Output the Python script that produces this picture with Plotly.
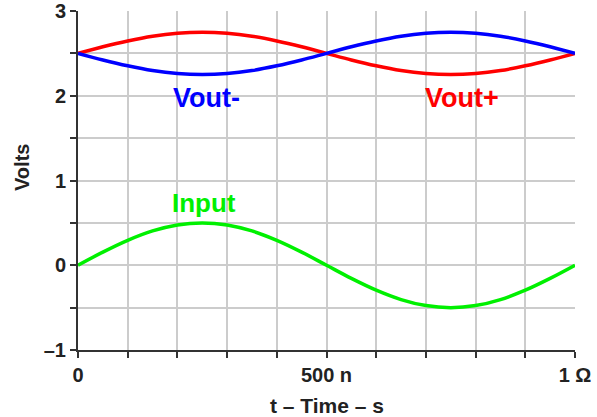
import plotly.graph_objects as go

# time in ns
t_ns = [0, 50, 100, 150, 200, 250, 300, 350, 400, 450, 500,
        550, 600, 650, 700, 750, 800, 850, 900, 950, 1000]
v_input = [0, 0.155, 0.294, 0.405, 0.476, 0.5, 0.476, 0.405, 0.294, 0.155, 0,
           -0.155, -0.294, -0.405, -0.476, -0.5, -0.476, -0.405, -0.294, -0.155, 0]
v_out_plus = [2.5, 2.578, 2.647, 2.703, 2.738, 2.75, 2.738, 2.703, 2.647, 2.578, 2.5,
              2.422, 2.353, 2.297, 2.262, 2.25, 2.262, 2.297, 2.353, 2.422, 2.5]
v_out_minus = [2.5, 2.422, 2.353, 2.297, 2.262, 2.25, 2.262, 2.297, 2.353, 2.422, 2.5,
               2.578, 2.647, 2.703, 2.738, 2.75, 2.738, 2.703, 2.647, 2.578, 2.5]

x_tickvals = [0, 100, 200, 300, 400, 500, 600, 700, 800, 900, 1000]
x_ticktext = ["0", "", "", "", "", "500 n", "", "", "", "", "1 Ω"]
y_tickvals = [-1, -0.5, 0, 0.5, 1, 1.5, 2, 2.5, 3]
y_ticktext = ["–1", "", "0", "", "1", "", "2", "", "3"]

FONT = "Liberation Sans, Arial, sans-serif"
TXT = "#222222"
W, H = 597, 417
L, R, T, B = 78, 22, 11, 67
pw, ph = W - L - R, H - T - B

fig = go.Figure()
fig.add_trace(go.Scatter(x=t_ns, y=v_out_plus, mode="lines", line=dict(color="#ff0000", width=3.5, shape="spline")))
fig.add_trace(go.Scatter(x=t_ns, y=v_out_minus, mode="lines", line=dict(color="#0000ff", width=3.5, shape="spline")))
fig.add_trace(go.Scatter(x=t_ns, y=v_input, mode="lines", line=dict(color="#00f000", width=3.5, shape="spline")))

labels = [("Vout-", 258, 1.97, "#0000ff", 27), ("Vout+", 772, 1.97, "#ff0000", 27), ("Input", 254, 0.74, "#00f000", 26)]
for txt, x, y, c, s in labels:
    fig.add_annotation(x=x, y=y, text="<b>%s</b>" % txt, showarrow=False,
                       font=dict(family=FONT, size=s, color=c), xanchor="center", yanchor="middle")

# axis titles placed at pixel positions (converted to paper coords)
fig.add_annotation(x=0.5, y=(H - B - 405) / ph, xref="paper", yref="paper", text="<b>t – Time – s</b>",
                   showarrow=False, font=dict(family=FONT, size=21, color=TXT), xanchor="center", yanchor="middle")
fig.add_annotation(x=(22 - L) / pw, y=(H - B - 168) / ph, xref="paper", yref="paper", text="<b>Volts</b>",
                   showarrow=False, textangle=-90,
                   font=dict(family=FONT, size=20, color=TXT), xanchor="center", yanchor="middle")

fig.update_layout(
    width=W, height=H,
    margin=dict(l=L, r=R, t=T, b=B),
    paper_bgcolor="white", plot_bgcolor="white",
    showlegend=False,
    font=dict(family=FONT, color=TXT),
)

fig.update_xaxes(range=[0, 1000], tickvals=x_tickvals, ticktext=x_ticktext, automargin=False,
                 showgrid=True, gridcolor="#cccccc", gridwidth=1.5,
                 showline=True, linecolor="#333333", linewidth=2,
                 ticks="outside", ticklen=6, tickcolor="#333333", tickwidth=2,
                 tickfont=dict(size=20, family=FONT, color=TXT, weight="bold"),
                 zeroline=False)
fig.update_yaxes(range=[-1, 3], tickvals=y_tickvals, ticktext=y_ticktext, automargin=False,
                 showgrid=True, gridcolor="#cccccc", gridwidth=1.5,
                 showline=True, linecolor="#333333", linewidth=2,
                 ticks="outside", ticklen=6, tickcolor="#333333", tickwidth=2,
                 tickfont=dict(size=20, family=FONT, color=TXT, weight="bold"),
                 zeroline=False)

fig.write_html("out.html", config={"displayModeBar": False},
               post_script="document.body.style.margin='0';document.body.style.overflow='hidden';")
